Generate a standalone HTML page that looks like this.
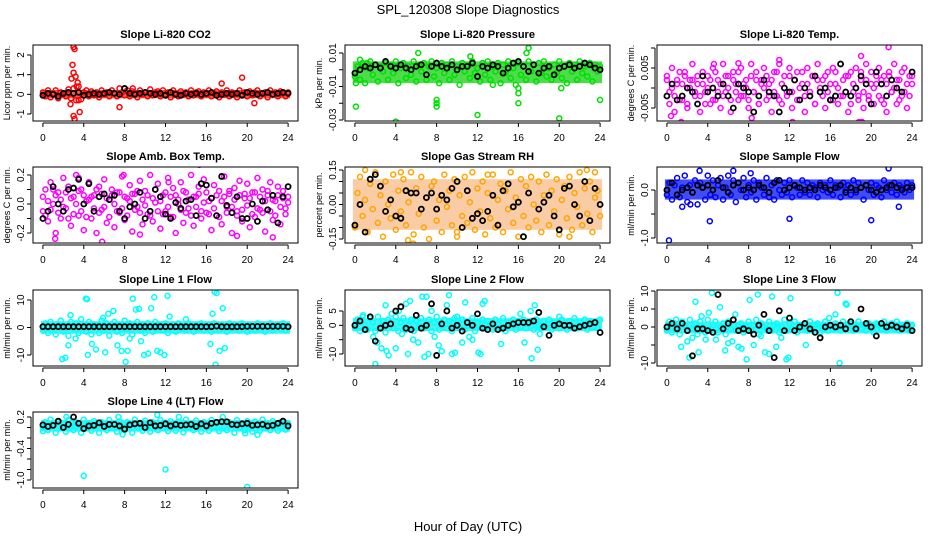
<!DOCTYPE html>
<html><head><meta charset="utf-8"><style>
html,body{margin:0;padding:0;background:#fff;}
svg{display:block;font-family:"Liberation Sans",Arial,sans-serif;}
</style></head><body>
<svg id="chart" width="936" height="540" viewBox="0 0 936 540" xmlns="http://www.w3.org/2000/svg">
<text x="468" y="14" text-anchor="middle" font-size="13">SPL_120308  Slope Diagnostics</text>
<text x="468" y="531" text-anchor="middle" font-size="13">Hour of Day (UTC)</text>
</svg>
<script>
const xTicks = [0,4,8,12,16,20,24];
const titles = ["Slope Li-820 CO2","Slope Li-820 Pressure","Slope Li-820 Temp.","Slope Amb. Box Temp.","Slope Gas Stream RH","Slope Sample Flow","Slope Line 1 Flow","Slope Line 2 Flow","Slope Line 3 Flow","Slope Line 4 (LT) Flow"];
const yLabels = ["Licor ppm per min.","kPa per min.","degrees C per min.","degrees C per min.","percent per min.","ml/min per min.","ml/min per min.","ml/min per min.","ml/min per min.","ml/min per min."];
const yTickVals = [[-1,0,1,2],[-0.03,-0.02,-0.01,0,0.01],[-0.005,0,0.005,0.01],[-0.2,-0.1,0,0.1,0.2],[-0.15,-0.1,-0.05,0,0.05,0.1,0.15],[-1,-0.5,0],[-10,0,10],[-10,-5,0,5],[-10,-5,0,5,10],[-1,-0.8,-0.6,-0.4,-0.2,0,0.2]];
const yTickText = [["-1","0","1","2"],["-0.03","","-0.01","","0.01"],["-0.005","","0.005",""],["-0.2","","0.0","","0.2"],["-0.15","","","0.00","","","0.15"],["-1.0","","0.0"],["-10","0","10"],["-10","","0","5"],["-10","","0","5","10"],["-1.0","","","-0.4","","","0.2"]];

// dense-cloud envelope (low, high) per panel; null where the cloud is sparse
const bandLow  = [-0.2, -0.008, null, null, -0.11, -0.2, -2.3, -2, -1.8, -0.08];
const bandHigh = [0.22, 0.005, null, null, 0.11, 0.22, 2.3, 2.5, 1.5, 0.14];

const co2Main = [0.1,-0.1,0.2,-0.15,0.05,0.2,-0.2,0.1,0,-0.1,0.25,-0.2,0.3,-0.3,0.4,-0.25,0.1,0.2,-0.1,0.15,-0.05,0.1,-0.15,0.2,0,0.1,-0.1,0.2,0.05,-0.1,0.3,0.1,-0.05,0.2,-0.1,0.15,0.05,-0.15,0.2,0,0.1,-0.1,0.25,-0.05,0.1,0.15,-0.1,0.2,0,0.1,-0.15,0.2,0.05,-0.1,0.15,0,0.1,-0.1,0.2,-0.05,0.1,0.15,-0.1,0.1,0,0.2,-0.1,0.05,0.15,-0.15,0.1,0,0.2,-0.1,0.1,0.05,-0.15,0.2,0,0.1,-0.1,0.15,-0.05,0.1,0.2,-0.1,0.05,0.1,-0.15,0.2,0,0.1,-0.1,0.15,0.05,-0.1,0.1];
const co2Out = [[3,2.4],[3.1,2.3],[2.9,1.5],[3,1.1],[3.2,0.9],[3.4,0.6],[3,-1.1],[3.1,-1.25],[3.6,-0.9],[2.8,0.8],[7.5,-0.65],[8.8,0.3],[17.5,0.55],[19.5,0.85],[20.7,-0.45],[3.3,0.4],[2.7,-0.5],[3.5,-0.3]];
const co2Hourly = [-0.05,0.05,0,-0.1,0.05,0.1,0.05,0.1,-0.05,0,0.05,0,0.05,0.1,0.05,0,0.3,0.05,0,0.05,0.1,0.05,0,0.05,-0.05,0.1,0,-0.05,0.05,0,0.05,0,0.05,0.1,-0.05,0,0.05,0,0.05,-0.05,0.1,0.05,0,0.05,0.1,0,0.05,0.1,0.05];

const presMain = [-0.004,0.002,-0.006,0.004,-0.008,0.001,0.005,-0.003,0.003,-0.007,0.002,-0.001,0.004,-0.006,0.003,-0.002,0.005,-0.008,0.001,0.004,-0.005,0.002,-0.003,0.005,-0.007,0.003,-0.001,0.004,-0.006,0.002,0.005,-0.004,0.001,-0.008,0.004,-0.002,0.003,-0.006,0.005,-0.003,0.002,-0.009,0.004,-0.001,0.003,-0.005,0.005,-0.002,0.001,-0.007,0.004,-0.003,0.005,-0.006,0.002,-0.001,0.004,-0.008,0.003,-0.002,0.005,-0.005,0.001,-0.009,0.004,-0.003,0.002,-0.006,0.005,-0.001,0.003,-0.007,0.004,-0.002,0.005,-0.004,0.001,-0.006,0.003,-0.002,0.005,-0.005,0.002,-0.008,0.004,-0.001,0.003,-0.006,0.005,-0.002,0.002,-0.004,0.004,-0.007,0.003,-0.001,0.002];
const presOut = [[0.1,-0.008],[0.1,-0.022],[0.3,0.002],[1.2,0.004],[4,-0.031],[6.2,0.01],[8,-0.018],[8,-0.02],[8,-0.022],[12,-0.027],[11.3,0.008],[16,-0.02],[16,-0.014],[16,-0.011],[17,0.013],[20,-0.029],[24,-0.018],[16.8,0.01],[0.5,0.006],[13.5,-0.009],[20.2,-0.011]];
const presHourly = [-0.002,0,0.002,0.001,0.003,0.001,0.005,0.002,0.001,0.003,0.001,0,0.002,0.003,-0.003,0.002,0.004,0.002,0.001,0.003,0,0.002,0.002,0.004,-0.004,0.002,0.001,0.003,0.002,-0.002,0.001,0.004,0.005,0.002,-0.001,0.003,-0.002,0.001,0.002,-0.003,0.001,0.002,0.003,0.001,0.002,0.004,0.003,0.001,0];

const tempMain = [0.002,-0.004,0.005,-0.006,0.001,0.004,-0.003,0.003,-0.005,0.002,0.006,-0.002,0.001,-0.006,0.004,-0.001,0.003,-0.004,0.005,-0.003,0.002,-0.005,0.006,-0.001,0.003,-0.006,0.004,0.001,-0.003,0.005,-0.002,0.002,-0.005,0.006,-0.001,0.004,-0.004,0.002,0.005,-0.003,0.001,-0.006,0.004,-0.002,0.006,-0.004,0.003,-0.001,0.005,-0.005,0.002,0.004,-0.003,0.001,-0.006,0.005,-0.002,0.003,-0.004,0.006,-0.001,0.002,-0.005,0.004,-0.003,0.005,0.001,-0.004,0.006,-0.002,0.003,-0.006,0.004,-0.001,0.005,-0.003,0.002,-0.005,0.006,-0.002,0.004,-0.004,0.001,0.005,-0.003,0.003,-0.006,0.004,-0.001,0.006,-0.004,0.002,-0.002,0.005,-0.005,0.003,0.001];
const tempExtra = [0.003,-0.001,0,-0.002,0.002,-0.003,0.001,0.004,-0.004,0,0.002,-0.001,0.003,-0.002,0.001,-0.004,0,0.002,-0.003,0.004,-0.001,0.001,-0.002,0.003,0,-0.003,0.002,-0.001,0.004,-0.002,0.001,0,-0.003,0.003,-0.001,0.002,-0.004,0.001,0,0.003,-0.002,0.002,-0.001,0.004,-0.003,0.001,0,-0.002,0.003,-0.001,0.002,-0.003,0,0.004,-0.002,0.001,-0.001,0.003,-0.004,0.002,0,-0.002,0.003,-0.001,0.001,-0.003,0.004,0,-0.002,0.002,-0.001,0.003,-0.004,0.001,0,-0.002,0.004,-0.001,0.002,-0.003,0.001,0,0.003,-0.002,0.002,-0.004,0.001,0.003,-0.001,0,0.002,-0.003,0.004,-0.001,0.001,-0.002,0.003];
const tempOut = [[1.4,-0.0085],[12.3,-0.0085],[18.8,-0.0085],[19,0.008],[21.7,0.0102],[7,0.0062],[11,0.007],[19.1,-0.0085],[0.4,-0.007],[4.6,0.006],[8.3,-0.0075]];
const tempHourly = [-0.002,0.001,-0.003,-0.002,0,-0.001,-0.004,0.003,-0.001,0,-0.002,0.001,-0.002,-0.005,0.001,0,-0.001,-0.006,-0.002,0.002,-0.001,-0.002,-0.006,0,-0.001,0.002,-0.003,0,-0.002,0.003,-0.001,0,-0.003,-0.002,0.006,-0.001,-0.002,0,0.003,0.001,-0.004,0.004,0.001,-0.002,0.002,0,-0.001,-0.009,0.004];

const ambMain = [-0.05,0.1,-0.12,0.15,0,-0.2,0.08,-0.1,0.18,-0.03,0.12,-0.15,0.05,0.2,-0.08,0.1,-0.18,0.02,0.15,-0.1,0.06,-0.2,0.12,-0.04,0.17,-0.13,0.03,0.1,-0.16,0.08,-0.06,0.19,-0.11,0.04,0.13,-0.19,0.07,-0.02,0.16,-0.14,0.09,-0.07,0.2,-0.12,0.01,0.14,-0.17,0.06,-0.05,0.18,-0.09,0.11,-0.2,0.03,0.15,-0.13,0.08,-0.03,0.2,-0.15,0.05,0.12,-0.1,0.17,-0.06,0.02,-0.18,0.13,-0.08,0.09,-0.14,0.19,-0.02,0.07,-0.2,0.11,-0.05,0.16,-0.12,0.04,0.14,-0.16,0.08,-0.09,0.18,-0.04,0.1,-0.19,0.06,0.15,-0.11,0.02,0.12,-0.14,0.09,-0.03,0.05];
const ambExtra = [0.05,-0.08,0.02,-0.04,0.1,0.06,-0.06,0.03,-0.02,0.08,-0.1,0.04,-0.07,0,0.09,-0.05,0.06,-0.09,0.03,0.05,-0.03,0.1,-0.06,0.07,-0.02,0.04,-0.09,0.06,0,-0.05,0.08,-0.03,0.05,-0.08,0.02,0.07,-0.04,0.09,-0.06,0.03,-0.01,0.06,-0.08,0.04,0.1,-0.05,0.02,-0.07,0.08,-0.02,0.05,-0.09,0.06,0,-0.04,0.09,-0.06,0.03,-0.08,0.05,-0.02,0.07,-0.05,0.01,0.08,-0.07,0.04,-0.03,0.06,-0.09,0.02,0.05,-0.06,0.09,-0.02,0.03,-0.08,0.06,-0.04,0.07,-0.01,0.04,-0.07,0.08,-0.03,0.05,-0.06,0.02,0.09,-0.05,0.03,-0.08,0.06,-0.02,0.04,-0.07,0.01];
const ambOut = [[1.2,-0.24],[5.8,-0.26],[15.3,0.27],[3.5,0.18],[7.9,0.2],[12.3,0.15],[19,-0.22],[22.5,-0.23],[9.5,-0.21]];
const ambHourly = [-0.1,-0.05,0.12,0,-0.05,0.1,0.11,0.17,0,0.14,-0.05,0.05,0.07,0.03,0.06,-0.05,-0.1,-0.02,0,0.08,-0.1,-0.05,0.1,0.05,-0.07,-0.1,0.01,-0.03,0.02,0.03,-0.08,0.14,0.13,0.04,-0.08,0.19,-0.01,-0.06,0.05,-0.1,-0.1,0,-0.12,0.02,-0.04,0.06,-0.13,0.05,0.12];

const rhMain = [-0.1,0.05,0.12,-0.05,0.02,-0.12,0.09,-0.02,0.14,-0.08,0.04,-0.14,0.1,0,-0.06,0.13,-0.11,0.06,-0.03,0.11,-0.09,0.01,0.14,-0.13,0.07,-0.04,0.12,-0.1,0.03,-0.15,0.08,0.1,-0.07,0.02,-0.12,0.13,-0.01,0.06,-0.09,0.11,-0.14,0.04,-0.05,0.12,-0.08,0.01,0.14,-0.11,0.07,-0.03,0.1,-0.13,0.05,-0.06,0.13,-0.1,0.02,0.09,-0.12,0.06,-0.02,0.14,-0.08,0.03,-0.14,0.11,-0.05,0.08,-0.1,0.12,0,-0.07,0.1,-0.12,0.04,0.13,-0.09,0.06,-0.03,0.11,-0.13,0.02,0.08,-0.06,0.12,-0.11,0.05,-0.01,0.14,-0.09,0.07,-0.04,0.1,-0.12,0.03,0.06,-0.05];
const rhOut = [[1,0.15],[5.2,-0.155],[5.7,-0.17],[10,-0.12],[21,-0.14],[23.5,0.14],[4.5,0.14],[13,0.13],[22.7,0.15]];
const rhHourly = [-0.09,0.0,-0.12,0.11,0.13,0.08,-0.03,0.02,-0.05,-0.06,0.06,0.05,0.05,-0.02,0.03,0.05,-0.02,0.04,0.02,0.07,0.1,-0.1,0.06,-0.06,-0.04,-0.07,-0.03,0.04,-0.09,0.06,0.09,-0.01,0.01,-0.14,0.05,-0.18,-0.02,0.01,0.04,-0.05,-0.11,0.07,0.08,0.0,-0.05,0.1,-0.07,0.07,0.0];

const flowMain = [-0.1,0.15,-0.2,0.1,0.25,-0.15,0.05,0.3,-0.25,0.1,-0.05,0.2,-0.3,0.15,0.05,-0.2,0.3,-0.1,0.2,-0.15,0.1,0.25,-0.2,0.05,0.3,-0.1,0.2,-0.25,0.15,0,0.25,-0.15,0.1,-0.05,0.2,-0.2,0.15,0.05,-0.1,0.25,-0.15,0.1,-0.2,0.2,0,-0.1,0.15,-0.05,0.2,-0.15,0.1,0.05,-0.1,0.2,-0.05,0.15,-0.1,0.1,0.05,-0.15,0.15,0,0.1,-0.05,0.2,-0.1,0.1,0.05,-0.15,0.15,0,0.1,-0.1,0.2,-0.05,0.15,0.05,-0.2,0.1,0,0.15,-0.1,0.1,0.05,-0.15,0.2,0,0.1,-0.05,0.15,-0.1,0.1,0.05,-0.05,0.15,0,0.1];
const flowOut = [[0.2,-1.05],[4.2,-0.65],[12,-0.6],[20,-0.63],[21.7,0.45],[6.5,0.4],[3.2,0.4],[8.2,0.35],[1.5,-0.35],[22.7,-0.35],[2.3,-0.3]];
const flowHourly = [0,0.15,-0.1,0,0.05,-0.05,0.1,0.05,0.1,0,0.2,0.05,-0.05,0.1,0.15,0,0.05,0,0.1,0.05,-0.05,0.15,0.2,0,0.05,0.1,0.05,0,0.05,0,0.1,0.05,0,0.05,0.1,-0.05,0.05,0,0.05,0.1,0,-0.05,0,0.05,0.1,0.05,0,0.05,0.05];

const l1Main = [-1,1.5,-2,2,0,-2.5,1,2.5,-1.5,0.5,-3,2,-0.5,1.5,-2,3,0,-1.5,2,-2.5,1,0.5,-2,2.5,-1,1.5,-3,0,2,-1.5,1,-2,2.5,-0.5,1.5,-2.5,0.5,2,-1,1,-2,1.5,0,-1.5,2,-0.5,1,-1,1.5,-2,0.5,1,-1.5,1.5,-0.5,0,-1,1.5,0.5,-1.5,1,-0.5,1.5,-1,0,1,-1.5,1.5,0.5,-1,1,0,-1.5,1.5,-0.5,1,0,-1,1.5,0.5,-1.5,1,0,-1,1.5,-0.5,1,-1.5,0.5,1.5,-1,0,1,-0.5,1.5,-1,0.5];
const l1Out = [[1.9,-11.5],[2.2,-11],[2.5,-6.5],[2.7,4.5],[4.2,10.5],[4.3,10.3],[4.4,-10],[4.8,-6],[5.2,-8],[6.1,-9],[6.4,5],[6.9,6],[7.3,-6.5],[7.7,-8.5],[8.1,-12.5],[8.3,-8.5],[8.8,10.5],[9.1,6.5],[9.4,6.8],[9.6,-5],[9.9,-10],[10.3,-9.5],[10.6,7],[10.9,11],[11.2,-8.5],[11.5,-9],[11.9,-10],[12.2,11.5],[12.4,4],[16.4,-6],[16.6,5],[16.8,13],[17,12.5],[16.9,-13.5],[17.3,-8.5],[17.6,7],[17.8,-7.5],[3.2,-4],[5.9,3.5],[8.5,-4],[14,3]];
const l1Hourly = [0.3,0.3,0.3,0.3,0.3,0.3,0.3,0.3,0.3,0.3,0.3,0.3,0.3,0.3,0.3,0.3,0.3,0.3,0.3,0.3,0.3,0.3,0.3,0.3,0.3,0.3,0.3,0.3,0.3,0.3,0.3,0.3,0.3,0.3,0.5,0.3,0.3,0.3,0.3,0.3,0.4,0.4,0.4,0.4,0.4,0.4,0.4,0.4,0.3];

const l2Main = [-1,2,-2,3,0,-1.5,2.5,1,-2,3,-0.5,1.5,-2.5,2,0.5,-1,3,-2,1,2.5,-1.5,0,2,-2,1.5,-0.5,2.5,-1,0.5,2,-2,1,3,-1.5,0,2,-1,1.5,-2,2.5,0.5,-1,2,-1.5,1,0,2.5,-2,1,-0.5,2,-1,1.5,0,-1.5,2,0.5,-1,2.5,-2,1,0,2,-1.5,1.5,-0.5,2,-1,0.5,1.5,-1.5,2,0,-1,1.5,-0.5,2,-1.5,1,0.5,-1,2,0,-1.5,1.5,-0.5,2.5,-1,1,0,2,-1.5,1.5,-0.5,1,-1,2];
const l2Out = [[0.8,3.5],[1.8,-4],[2,-13.5],[2.2,-6],[2.6,-8],[3,7],[3.1,-9],[3.3,-10.5],[3.6,4],[4,-8],[4.3,5],[4.6,-3],[5,7.5],[5.2,-10],[5.4,8.5],[5.7,-5],[6.2,-6],[6.6,10],[6.8,-11],[7,10],[7.2,-10],[7.5,5],[7.8,-4],[8.2,-7],[8.5,-9],[9,7],[9.2,10.5],[9.5,-10],[9.8,-9.5],[10,3],[10.5,-6],[10.8,8],[11.2,-4],[11.5,-5],[12.1,-9.5],[12.3,-10],[12.5,7.5],[12.7,8.5],[14.3,-6.5],[16.2,4],[16.6,-6],[17.2,5],[17.3,-11.5],[17.6,7],[17.9,-8.5],[18.1,-3],[20,3]];
const l2Hourly = [0,1.5,-1.5,3,-5.5,-1,0,0.5,5,6.5,-1,-1.5,3.5,-1,0,7.5,-10.5,0.5,5,-1,0,-2,1,0,4,-1,-1.5,0.5,-1.5,-1,0,0.5,1,1,1,1.5,4.5,-0.5,-3.5,0,0.5,0,0,-1,-0.5,0,0.5,1,-2.5];

const l3Main = [-1,1.5,-1.5,1,0,-2,1.5,0.5,-1,2,-0.5,1,-2,1.5,0,-1.5,2,-1,0.5,1.5,-1.5,0,1,-2,1.5,-0.5,2,-1,0.5,1,-1.5,0,1.5,-1,0.5,2,-2,1,0,-0.5,1.5,-1,0.5,1,-1.5,0,2,-1,1,-0.5,1.5,-1.5,0.5,0,1,-1,1.5,-0.5,0.5,1,-1.5,0,1.5,-1,0.5,-0.5,1,0,-1,1.5,-0.5,0.5,1,-1,0,1.5,-0.5,0.5,-1,1,0,-1.5,1,0.5,-0.5,1.5,-1,0,1,-0.5,1.5,-1,0.5,0,1,-1,0.5];
const l3Out = [[0.9,2],[1.4,-5.5],[2,-4],[2.2,-8.5],[2.5,-3],[2.8,7],[3.1,-7],[3.4,3],[3.8,-3.5],[4.1,4],[4.4,9.5],[4.8,-3.5],[5.2,5.5],[5.7,-6.5],[6,-4.5],[6.4,-4],[6.7,3.5],[7,-5.5],[7.3,-6],[7.8,-9],[8.1,7.5],[8.5,-5],[8.9,9],[9.2,-2.5],[9.6,-7],[10,-7.5],[10.3,8.5],[10.7,-5.5],[11.2,-3],[11.7,-9],[11.9,-8.5],[12.1,8],[13.6,-5],[15.9,2.5],[16.5,3.5],[16.7,9.5],[16.9,-10],[17.5,6.5],[17.6,6.2]];
const l3Hourly = [0,1,-0.5,1,-1,-8,-0.5,-0.5,-1,-1.5,9,-0.5,1,2,-1,-0.5,-1,-2,0.5,3.5,-1,-8.5,4.5,-1,2.5,-1,0,1,-0.5,-1.5,-3,0,0.5,0,0.5,-0.5,1.5,-0.5,5,1,0,-2.5,1,0,0.5,0,-0.5,0.5,-1];

const l4Main = [0,0.1,-0.05,0.15,0.05,-0.1,0.12,0,0.08,-0.08,0.14,0.02,-0.05,0.1,0.05,-0.1,0.15,0,0.08,-0.06,0.12,0.03,-0.1,0.1,0.05,-0.05,0.14,0,0.08,-0.08,0.12,0.02,-0.05,0.1,0.06,-0.1,0.15,0,0.07,-0.06,0.13,0.03,-0.08,0.1,0.04,-0.05,0.14,0,0.09,-0.07,0.12,0.02,-0.06,0.11,0.05,-0.09,0.15,0,0.08,-0.05,0.13,0.03,-0.08,0.1,0.05,-0.06,0.14,0.01,0.08,-0.07,0.12,0.02,-0.05,0.1,0.06,-0.1,0.14,0,0.08,-0.05,0.12,0.03,-0.08,0.11,0.04,-0.06,0.15,0,0.07,-0.05,0.12,0.02,-0.06,0.1,0.05,-0.04,0.08];
const l4Out = [[4,-0.92],[12,-0.8],[20,-1.13],[0,-0.07],[11.2,0.24],[2.3,0.2],[7.4,0.2],[13.3,0.2],[17.6,0.2],[21,-0.14],[7.8,-0.13],[19.8,-0.11]];
const l4Hourly = [0.05,0.02,0.04,0.12,0,0.06,0.2,0.08,-0.02,0.03,0.04,0.09,0.02,0.06,0.06,0.03,-0.03,0.05,0.07,0.08,0,0.09,0.03,0.04,0.07,0.03,0.06,0.04,0.05,0.06,0.02,0.07,0.03,0.08,0.1,0.11,0.11,0.06,0.05,0.07,0.08,0.04,0.05,0.06,0.03,0.04,0.08,0.12,0.03];

const panelMain = [co2Main,presMain,tempMain,ambMain,rhMain,flowMain,l1Main,l2Main,l3Main,l4Main];
const panelExtra = [null,null,tempExtra,ambExtra,null,null,null,null,null,null];
const panelOut = [co2Out,presOut,tempOut,ambOut,rhOut,flowOut,l1Out,l2Out,l3Out,l4Out];
const panelHourly = [co2Hourly,presHourly,tempHourly,ambHourly,rhHourly,flowHourly,l1Hourly,l2Hourly,l3Hourly,l4Hourly];

// layout (styling, not data)
const colors = ["#ff0000","#00e000","#ff00ff","#ff00ff","#ffa500","#0000ff","#00ffff","#00ffff","#00ffff","#00ffff"];
const bandColors = ["#ff2000","#10d010","#ff00ff","#ff00ff","#f08020","#0010f0","#00f0f0","#00f0f0","#00f0f0","#00f0f0"];
const bandOpacity = [0.75,0.75,0,0,0.4,0.75,0.75,0.75,0.75,0.75];
const colLeft = [33,345,657], rowTop = [45,167,290,412], boxW = 265, boxH = 76;
const yCal = [[2,55,-1,114],[0.01,53,-0.03,120],[0.005,68,-0.005,108],[0.2,175,-0.2,233],[0.15,170,-0.15,239],[0,190,-1,238],[10,300,-10,355],[5,311,-10,354],[10,291,-10,363],[0.2,417,-1,480]];

const NS = "http://www.w3.org/2000/svg";
const svg = document.getElementById("chart");
function mk(tag, attrs, parent){ const e=document.createElementNS(NS,tag); for(const k in attrs) e.setAttribute(k,attrs[k]); (parent||svg).appendChild(e); return e; }

for (let p=0;p<10;p++){
  const L = colLeft[p%3], T = rowTop[Math.floor(p/3)];
  const xs = h => L + 9.9 + h*(boxW-19.8)/24;
  const c = yCal[p];
  const ys = v => c[1] + (v-c[0])*(c[3]-c[1])/(c[2]-c[0]);
  const g = mk("g",{});
  
  
  const clipId = "clip"+p;
  const cp = mk("clipPath",{id:clipId},g);
  mk("rect",{x:L,y:T,width:boxW,height:boxH},cp);
  const t = mk("text",{x:L+boxW/2,y:T-7,"text-anchor":"middle","font-size":"11","font-weight":"bold"},g);
  t.textContent = titles[p];
  
  
  const yl = mk("text",{x:0,y:0,"text-anchor":"middle","font-size":"9",transform:`translate(${L-23},${T+boxH/2}) rotate(-90)`},g);
  yl.textContent = yLabels[p];
  
  
  const pts = mk("g",{"clip-path":`url(#${clipId})`,fill:"none","stroke-width":"1.5"},g);
  
  
  if (bandLow[p] !== null){
    const b = mk("rect",{x:xs(0)-2,y:ys(bandHigh[p]),width:xs(24)-xs(0)+4,height:ys(bandLow[p])-ys(bandHigh[p]),fill:bandColors[p],opacity:bandOpacity[p]},pts);
    
    
  }
  const drawSeries = (arr, name) => {
    arr.forEach((v,i)=>{
      const ci = mk("circle",{cx:xs(i*24/(arr.length-1)),cy:ys(v),r:2.5,stroke:colors[p]},pts);
      
      
    });
  };
  drawSeries(panelMain[p], 'point');
  if (panelExtra[p]) drawSeries(panelExtra[p], 'point');
  panelOut[p].forEach(d=>{
    const ci = mk("circle",{cx:xs(d[0]),cy:ys(d[1]),r:2.5,stroke:colors[p]},pts);
    
    
  });
  const hr = panelHourly[p];
  hr.forEach((v,i)=>{
    const ci = mk("circle",{cx:xs(i*24/(hr.length-1)),cy:ys(v),r:2.5,stroke:"#000","stroke-width":"1.8"},pts);
    
    
  });
  const bx = mk("rect",{x:L,y:T,width:boxW,height:boxH,fill:"none",stroke:"#000","stroke-width":"1"},g);
  
  
  const B = T+boxH;
  mk("line",{x1:xs(0),x2:xs(24),y1:B+2,y2:B+2,stroke:"#000"},g);
  xTicks.forEach(h=>{
    mk("line",{x1:xs(h),x2:xs(h),y1:B+2,y2:B+6,stroke:"#000"},g);
    const tx = mk("text",{x:xs(h),y:B+20,"text-anchor":"middle","font-size":"10"},g);
    tx.textContent = h;
    
    
  });
  const tv = yTickVals[p];
  mk("line",{x1:L-2,x2:L-2,y1:ys(tv[0]),y2:ys(tv[tv.length-1]),stroke:"#000"},g);
  tv.forEach((v,i)=>{
    mk("line",{x1:L-6,x2:L-2,y1:ys(v),y2:ys(v),stroke:"#000"},g);
    if (yTickText[p][i]){
      const ty = mk("text",{x:0,y:0,"text-anchor":"middle","font-size":"10",transform:`translate(${L-9},${ys(v)}) rotate(-90)`},g);
      ty.textContent = yTickText[p][i];
      
      
    }
  });
}
</script>
</body></html>
